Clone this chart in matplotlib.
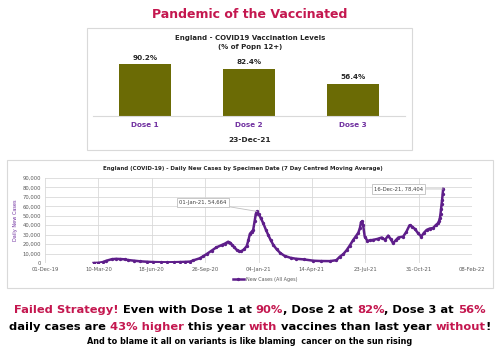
import matplotlib

matplotlib.use("Agg")
import matplotlib.pyplot as plt
import matplotlib.dates as mdates
import matplotlib.patches as patches
import pandas as pd

# --------------------------------------------------------------------------- #
# Data
# --------------------------------------------------------------------------- #
doses = ["Dose 1", "Dose 2", "Dose 3"]
dose_pct = [90.2, 82.4, 56.4]
snapshot_date = "23-Dec-21"

case_dates = [
    "2020-03-01", "2020-03-10", "2020-03-18", "2020-03-25", "2020-04-04",
    "2020-04-12", "2020-04-20", "2020-04-28", "2020-05-05", "2020-05-15",
    "2020-05-27", "2020-06-10", "2020-06-20", "2020-07-05", "2020-07-16",
    "2020-07-30", "2020-08-10", "2020-08-20", "2020-08-29", "2020-09-04",
    "2020-09-16", "2020-09-22", "2020-09-29", "2020-10-08", "2020-10-17",
    "2020-10-27", "2020-11-02", "2020-11-08", "2020-11-12", "2020-11-15",
    "2020-11-20", "2020-11-24", "2020-11-29", "2020-12-03", "2020-12-08",
    "2020-12-13", "2020-12-16", "2020-12-19", "2020-12-22", "2020-12-25",
    "2020-12-28", "2020-12-30", "2021-01-01", "2021-01-04", "2021-01-08",
    "2021-01-13", "2021-01-18", "2021-01-22", "2021-01-27", "2021-02-01",
    "2021-02-07", "2021-02-14", "2021-02-22", "2021-03-05", "2021-03-15",
    "2021-03-30", "2021-04-17", "2021-05-01", "2021-05-18", "2021-05-30",
    "2021-06-05", "2021-06-12", "2021-06-18", "2021-06-24", "2021-06-30",
    "2021-07-05", "2021-07-10", "2021-07-13", "2021-07-15", "2021-07-17",
    "2021-07-19", "2021-07-22", "2021-07-27", "2021-08-01", "2021-08-07",
    "2021-08-15", "2021-08-23", "2021-08-29", "2021-09-04", "2021-09-09",
    "2021-09-13", "2021-09-18", "2021-09-23", "2021-10-02", "2021-10-08",
    "2021-10-14", "2021-10-19", "2021-10-24", "2021-10-30", "2021-11-05",
    "2021-11-10", "2021-11-15", "2021-11-21", "2021-11-27", "2021-12-02",
    "2021-12-06", "2021-12-08", "2021-12-10", "2021-12-11", "2021-12-12",
    "2021-12-13", "2021-12-14", "2021-12-15", "2021-12-16",
]
case_values = [
    0, 200, 900, 2400, 4000,
    4400, 4200, 3900, 3100, 2500,
    1800, 1300, 1000, 800, 700,
    800, 1000, 1200, 1500, 2800,
    5000, 7000, 9500, 13000, 16500,
    19000, 20500, 22500, 21500, 19500,
    16500, 14000, 12500, 12500, 14500,
    18000, 24000, 31000, 33000, 35000,
    45000, 52000, 54664, 52000, 48000,
    42000, 35000, 30000, 24000, 19000,
    14500, 10500, 7500, 5500, 4500,
    3800, 2400, 2100, 2000, 3000,
    6500, 9500, 13500, 18500, 24000,
    28000, 32000, 37000, 43000, 44000,
    40000, 28000, 23500, 24000, 24500,
    25500, 27000, 24500, 29000, 25000,
    21000, 24000, 27000, 28000, 33000,
    40000, 38500, 36000, 31500, 28000,
    32000, 35000, 36500, 37000, 40000,
    42000, 44000, 48000, 52000, 57000,
    62000, 67000, 73000, 78404,
]
labelled_dates = ["2021-01-01", "2021-12-16"]

# headline segments: (text, highlighted?)
line1 = [("Failed Strategy!", True), (" Even with Dose 1 at ", False), ("90%", True),
         (", Dose 2 at ", False), ("82%", True), (", Dose 3 at ", False), ("56%", True)]
line2 = [("daily cases are ", False), ("43% higher", True), (" this year ", False),
         ("with", True), (" vaccines than last year ", False), ("without", True),
         ("!", False)]
line3 = "And to blame it all on variants is like blaming  cancer on the sun rising"

CRIMSON = "#C4174F"
OLIVE = "#6B6B05"
PURPLE = "#7030A0"
LINE = "#5E1E8A"
GRID = "#D9D9D9"
DARK = "#262626"

W, H = 500, 351
fig = plt.figure(figsize=(W / 100, H / 100), dpi=100)
fig.patch.set_facecolor("white")


def fx(x):
    return x / W


def fy(y):
    return 1 - y / H


def frame(x0, y0, x1, y1):
    fig.patches.append(patches.Rectangle((fx(x0), fy(y1)), fx(x1 - x0), (y1 - y0) / H,
                                         transform=fig.transFigure, fill=False,
                                         edgecolor=GRID, lw=0.8))


def segments(parts, y, size):
    """Draw coloured text pieces side by side, centred on the figure."""
    r = fig.canvas.get_renderer()
    texts = []
    for s, hot in parts:
        t = fig.text(0, fy(y), s, fontsize=size, fontweight="bold",
                     color=CRIMSON if hot else "black", va="center", ha="left")
        texts.append(t)
    widths = [t.get_window_extent(r).width for t in texts]
    x = (W - sum(widths)) / 2
    for t, w in zip(texts, widths):
        t.set_x(fx(x))
        x += w


# --------------------------------------------------------------------------- #
# Title + vaccination bars
# --------------------------------------------------------------------------- #
fig.text(0.5, fy(14), "Pandemic of the Vaccinated", ha="center", va="center",
         fontsize=9, fontweight="bold", color=CRIMSON)
frame(87, 28, 412, 150)
fig.text(fx(250), fy(38), "England - COVID19 Vaccination Levels", ha="center",
         va="center", fontsize=5, fontweight="bold", color=DARK)
fig.text(fx(250), fy(47.5), "(% of Popn 12+)", ha="center", va="center",
         fontsize=5, fontweight="bold", color=DARK)

axb = fig.add_axes([fx(93), fy(116), fx(312), 60.5 / H])
bars = axb.bar(doses, dose_pct, width=0.5, color=OLIVE)
axb.set_xlim(-0.5, 2.5)
axb.set_ylim(0, 105)
for b, v in zip(bars, dose_pct):
    axb.annotate(f"{v:.1f}%", (b.get_x() + b.get_width() / 2, v), xytext=(0, 2.5),
                 textcoords="offset points", ha="center", va="bottom",
                 fontsize=5.2, fontweight="bold", color=DARK)
axb.set_yticks([])
for side in ("top", "left", "right"):
    axb.spines[side].set_visible(False)
axb.spines["bottom"].set_color(GRID)
axb.spines["bottom"].set_linewidth(0.8)
axb.tick_params(axis="x", length=0, pad=4, labelsize=5.2, labelcolor=PURPLE)
for lab in axb.get_xticklabels():
    lab.set_fontweight("bold")
fig.text(fx(250), fy(140), snapshot_date, ha="center", va="center",
         fontsize=5.4, fontweight="bold", color=DARK)

# --------------------------------------------------------------------------- #
# Daily new cases
# --------------------------------------------------------------------------- #
frame(7, 160, 493, 288)
fig.text(fx(243), fy(169),
         "England (COVID-19) - Daily New Cases by Specimen Date (7 Day Centred Moving Average)",
         ha="center", va="center", fontsize=4, fontweight="bold", color=DARK)

dates = pd.to_datetime(case_dates)
axl = fig.add_axes([fx(45), fy(263), fx(427), 85 / H])
axl.plot(dates, case_values, color=LINE, lw=1.8, marker="o", ms=1.4,
         label="New Cases (All Ages)")
ticks = pd.date_range("2019-12-01", periods=9, freq="100D")
axl.set_xlim(ticks[0], ticks[-1])
axl.set_ylim(0, 90000)
axl.set_xticks(ticks)
axl.xaxis.set_major_formatter(mdates.DateFormatter("%d-%b-%y"))
axl.set_yticks(range(0, 90001, 10000))
axl.yaxis.set_major_formatter(matplotlib.ticker.FuncFormatter(lambda v, p: f"{v:,.0f}"))
axl.grid(True, color=GRID, lw=0.6)
axl.set_axisbelow(True)
for s in axl.spines.values():
    s.set_visible(False)
axl.tick_params(length=0, labelsize=3.8, labelcolor="#595959", pad=3)
axl.set_ylabel("Daily New Cases", fontsize=3.6, color=PURPLE, labelpad=3)

offsets = {"2021-01-01": (-54, 9), "2021-12-16": (-45, 0)}
for d in labelled_dates:
    i = case_dates.index(d)
    dt = dates[i]
    axl.annotate(f"{dt:%d-%b-%y}, {case_values[i]:,}", (dt, case_values[i]),
                 xytext=offsets[d], textcoords="offset pixels", ha="center",
                 va="center", fontsize=3.8, color="#404040",
                 bbox=dict(boxstyle="square,pad=0.4", fc="white", ec="#BFBFBF", lw=0.6),
                 arrowprops=dict(arrowstyle="-", color="#BFBFBF", lw=0.6,
                                 shrinkA=0, shrinkB=0))

axl.legend(loc="center", bbox_to_anchor=(fx(265), fy(279)),
           bbox_transform=fig.transFigure, frameon=False, fontsize=3.5,
           labelcolor="#595959", handlelength=2.2, handletextpad=0.4)

# --------------------------------------------------------------------------- #
# Headline text
# --------------------------------------------------------------------------- #
segments(line1, 310, 8.25)
segments(line2, 327, 8.25)
fig.text(0.5, fy(341), line3, ha="center", va="center", fontsize=5.9,
         fontweight="bold", color="black")

fig.savefig("out.png", dpi=100, facecolor="white")
